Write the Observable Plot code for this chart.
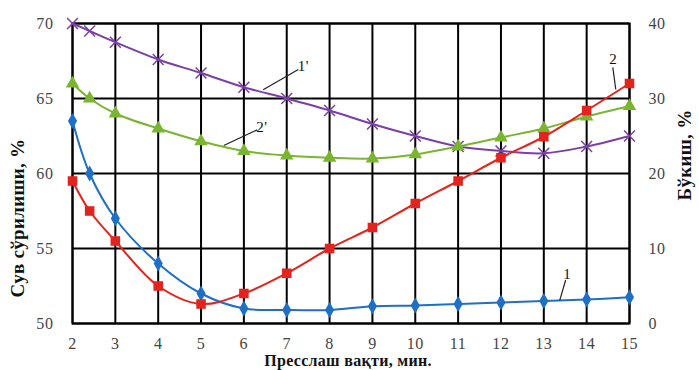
<!DOCTYPE html>
<html>
<head>
<meta charset="utf-8">
<script src="https://cdn.jsdelivr.net/npm/d3@7"></script>
<script src="https://cdn.jsdelivr.net/npm/@observablehq/plot@0.6"></script>
<style>
  body { margin: 0; background: #fff; }
  #chart svg { display: block; }
</style>
</head>
<body>
<div id="chart"></div>
<script>
// Pressing time, min
const times = [2, 2.4, 3, 4, 5, 6, 7, 8, 9, 10, 11, 12, 13, 14, 15];

// Water absorption, % (left axis) — curves 1' and 2'
const water1 = [70, 69.5, 68.75, 67.6, 66.7, 65.75, 65, 64.2, 63.3, 62.5, 61.8, 61.5, 61.35, 61.8, 62.5];
const water2 = [66, 65, 64, 63, 62.15, 61.5, 61.2, 61.05, 61.0, 61.27, 61.8, 62.4, 63.0, 63.8, 64.5];

// Swelling, % (right axis) — curves 1 and 2
const swell1 = [27, 20, 14, 8, 4, 2, 1.8, 1.8, 2.3, 2.4, 2.6, 2.8, 3.0, 3.2, 3.5];
const swell2 = [19, 15, 11, 5, 2.6, 4, 6.7, 10, 12.8, 16, 19, 22.1, 24.9, 28.4, 32];

// Tick labels
const xTicks = [2, 3, 4, 5, 6, 7, 8, 9, 10, 11, 12, 13, 14, 15];
const leftTicks = [50, 55, 60, 65, 70];
const rightTicks = [0, 10, 20, 30, 40];

// Curve labels and their leader lines (data units)
const curveLabels = [
  {text: "1'", x: 7.39, y: 67.15, x1: 6.45, y1: 65.58, x2: 7.27, y2: 66.93},
  {text: "2'", x: 6.42, y: 63.08, x1: 5.53, y1: 61.87, x2: 6.31, y2: 62.91},
  {text: "2",  x: 14.62, y: 67.62, x1: 14.61, y1: 67.07, x2: 14.68, y2: 65.6},
  {text: "1",  x: 13.55, y: 53.3, x1: 13.51, y1: 52.9, x2: 13.37, y2: 51.53}
];

// Right axis (0–40) is drawn on the same vertical scale as the left one (50–70)
const toLeft = v => 50 + v / 2;
const fromLeft = l => (l - 50) * 2;

const series = [
  {name: "1'", values: water1, color: "#7b3fa6", symbol: "times", r: 5},
  {name: "2'", values: water2, color: "#7ab52f", symbol: "triangle", r: 5},
  {name: "1",  values: swell1.map(toLeft), color: "#1f6fc4", symbol: "diamond", r: 4.8},
  {name: "2",  values: swell2.map(toLeft), color: "#e3231d", symbol: "square", r: 5.4}
];

const rows = series.flatMap(s => times.map((t, i) => ({series: s.name, t, v: s.values[i]})));

const marks = [
  Plot.ruleX(xTicks, {stroke: "#000", strokeWidth: 2}),
  Plot.ruleY(leftTicks, {stroke: "#000", strokeWidth: 2}),
  Plot.frame({stroke: "#000", strokeWidth: 2}),
  Plot.axisX(xTicks, {tickSize: 0, tickPadding: 14, label: null}),
  Plot.axisY(leftTicks, {anchor: "left", tickSize: 0, tickPadding: 19, label: null}),
  Plot.axisY(rightTicks.map(toLeft), {anchor: "right", tickSize: 0, tickPadding: 19, tickFormat: d => String(fromLeft(d)), label: null})
];

for (const s of series) {
  const data = rows.filter(d => d.series === s.name);
  marks.push(Plot.line(data, {x: "t", y: "v", stroke: s.color, strokeWidth: 2, curve: "catmull-rom"}));
  if (s.symbol === "times") {
    marks.push(Plot.dot(data, {x: "t", y: "v", symbol: "times", r: s.r, stroke: s.color, strokeWidth: 1.5}));
  } else {
    marks.push(Plot.dot(data, {x: "t", y: "v", symbol: s.symbol, r: s.r, fill: s.color, stroke: "none"}));
  }
}

marks.push(
  Plot.link(curveLabels, {x1: "x1", y1: "y1", x2: "x2", y2: "y2", stroke: "#222", strokeWidth: 1.2}),
  Plot.text(curveLabels, {x: "x", y: "y", text: "text", fontSize: 15, fill: "#111"})
);

const chart = Plot.plot({
  width: 699,
  height: 370,
  marginLeft: 72,
  marginRight: 70,
  marginTop: 23,
  marginBottom: 47,
  x: {domain: [2, 15]},
  y: {domain: [50, 70]},
  style: {fontFamily: "'Liberation Serif', 'DejaVu Serif', serif", fontSize: "16px", color: "#444", background: "#fff", letterSpacing: "0.6px"},
  marks
});

// Axis titles
const svg = d3.select(chart);
const titleStyle = t => t
  .attr("font-family", "'Liberation Serif', serif")
  .attr("font-weight", "bold")
  .attr("fill", "#111")
  .attr("letter-spacing", "0.3px")
  .attr("text-anchor", "middle");

titleStyle(svg.append("text"))
  .attr("transform", "translate(24,218) rotate(-90)")
  .attr("font-size", 19)
  .text("Сув сўрилиши, %");

titleStyle(svg.append("text"))
  .attr("transform", "translate(691,155) rotate(-90)")
  .attr("font-size", 19)
  .text("Бўкиш, %");

titleStyle(svg.append("text"))
  .attr("x", 348)
  .attr("y", 366)
  .attr("font-size", 16)
  .text("Пресслаш вақти, мин.");

document.getElementById("chart").appendChild(chart);
</script>
</body>
</html>
